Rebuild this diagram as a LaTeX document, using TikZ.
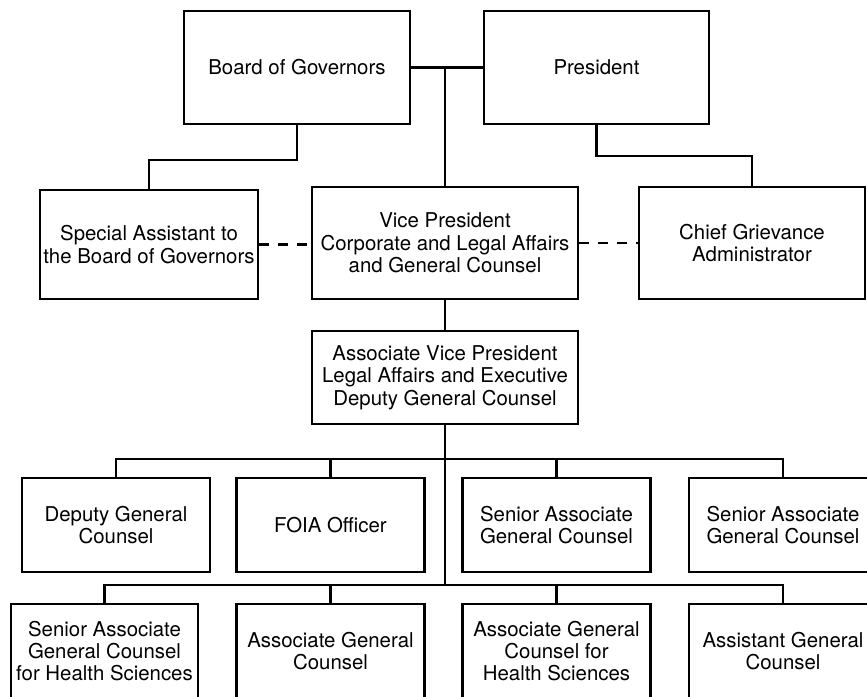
\documentclass[tikz,border=0pt]{standalone}
\usepackage{fontspec}
\setmainfont{TeX Gyre Heros}
\begin{document}
\begin{tikzpicture}[x=0.5pt,y=-0.5pt,
  box/.style={draw,line width=1.1pt,align=center,inner sep=0pt,
    font=\fontsize{10.2}{11.2}\selectfont},
  rowbox/.style={box,minimum width=94pt,minimum height=47pt},
  link/.style={line width=1.1pt},
  dashlink/.style={line width=1.1pt,dash pattern=on 5pt off 4.5pt}]
\useasboundingbox (0,0) rectangle (867,696);
\clip (0,0) rectangle (867,696);
% top
\node[box,minimum width=113pt,minimum height=56.5pt] (board) at (297,67.5) {Board of Governors};
\node[box,minimum width=112.5pt,minimum height=56.5pt] (pres) at (596.5,67.5) {President};
% second level
\node[box,minimum width=109pt,minimum height=54.5pt] (sa) at (149,244.5) {Special Assistant to\\the Board of Governors};
\node[box,minimum width=133pt,minimum height=56pt] (vp) at (445,243) {Vice President\\Corporate and Legal Affairs\\and General Counsel};
\node[box,minimum width=113pt,minimum height=56pt] (cg) at (752,243) {Chief Grievance\\Administrator};
% AVP
\node[box,minimum width=133pt,minimum height=46.5pt] (avp) at (445,377.5) {Associate Vice President\\Legal Affairs and Executive\\Deputy General Counsel};
% row 1
\node[rowbox] (dgc) at (116,525) {Deputy General\\Counsel};
\node[rowbox] (foia) at (330.5,525) {FOIA Officer};
\node[rowbox] (sagc1) at (556.5,525) {Senior Associate\\General Counsel};
\node[rowbox] (sagc2) at (783,525) {Senior Associate\\General Counsel};
% row 2
\node[rowbox,minimum width=93.5pt] (sagchs) at (104.5,651) {Senior Associate\\General Counsel\\for Health Sciences};
\node[rowbox] (agc) at (330.5,651) {Associate General\\Counsel};
\node[rowbox] (agchs) at (556.5,651) {Associate General\\Counsel for\\Health Sciences};
\node[rowbox] (asst) at (783,651) {Assistant General\\Counsel};
% bus coordinates
\coordinate (b1) at (445,459);
\coordinate (b2) at (445,585);
% connectors
\draw[link] (board.east) -- (pres.west);
\draw[link] (vp.north) -- (vp.north |- board.east);
\draw[link] (board.south) -- ++(0,35) -| (sa.north);
\draw[link] (pres.south) -- ++(0,31) -| (cg.north);
\draw[dashlink] (sa.east) -- (sa.east -| vp.west);
\draw[dashlink] (vp.east) -- (cg.west);
\draw[link] (vp.south) -- (avp.north);
\draw[link] (avp.south) -- (b2);
\draw[link] (dgc.north) |- (b1) -| (sagc2.north);
\draw[link] (foia.north) -- (foia.north |- b1);
\draw[link] (sagc1.north) -- (sagc1.north |- b1);
\draw[link] (sagchs.north) |- (b2) -| (asst.north);
\draw[link] (agc.north) -- (agc.north |- b2);
\draw[link] (agchs.north) -- (agchs.north |- b2);
\end{tikzpicture}
\end{document}
